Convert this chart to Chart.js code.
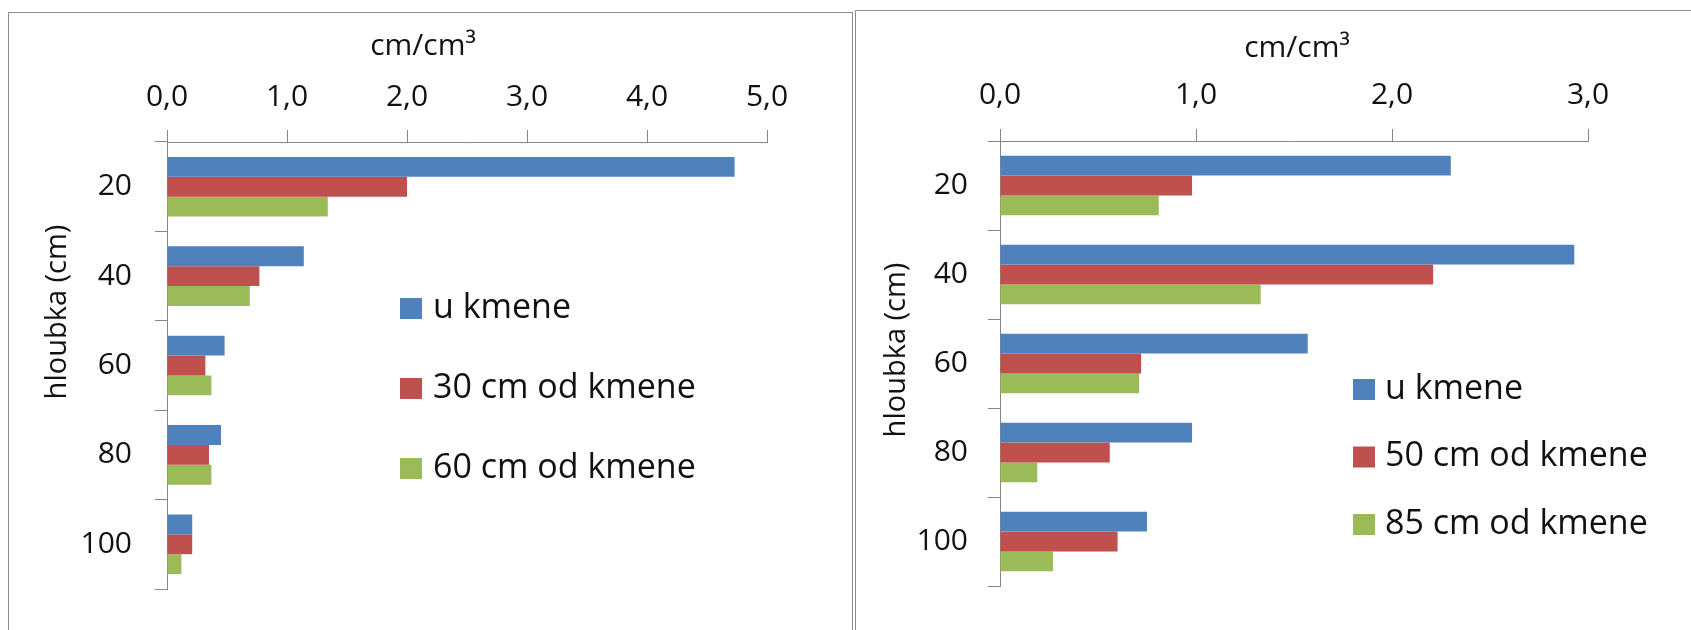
<!DOCTYPE html>
<html>
<head>
<meta charset="utf-8">
<script src="https://cdn.jsdelivr.net/npm/chart.js@4.4.1/dist/chart.umd.min.js"></script>
<style>
    html, body { margin: 0; padding: 0; background: #fff; width: 1691px; height: 630px; overflow: hidden; position: relative; }
    .panel { position: absolute; border: 1px solid #8c8c8c; box-sizing: border-box; background: #fff; }
    #left-panel { left: 8px; top: 12px; width: 845px; height: 700px; }
    #right-panel { left: 855px; top: 10px; width: 900px; height: 700px; }
    .wrap { position: absolute; top: 0; height: 630px; }
    #left-wrap { left: 0; width: 852px; }
    #right-wrap { left: 855px; width: 884px; }
</style>
</head>
<body>
<div class="panel" id="left-panel"></div>
<div class="panel" id="right-panel"></div>
<div class="wrap" id="left-wrap"><canvas id="left-chart"></canvas></div>
<div class="wrap" id="right-wrap"><canvas id="right-chart"></canvas></div>

<script>
const depthLabels = ['20', '40', '60', '80', '100'];
const axisTitle = 'cm/cm³';
const depthTitle = 'hloubka (cm)';

// levá část: 30 a 60 cm od kmene
const leftNames = ['u kmene', '30 cm od kmene', '60 cm od kmene'];
const leftTrunk = [4.73, 1.14, 0.48, 0.45, 0.21];
const left30 = [2.00, 0.77, 0.32, 0.35, 0.21];
const left60 = [1.34, 0.69, 0.37, 0.37, 0.12];

// pravá část: 50 a 85 cm od kmene
const rightNames = ['u kmene', '50 cm od kmene', '85 cm od kmene'];
const rightTrunk = [2.30, 2.93, 1.57, 0.98, 0.75];
const right50 = [0.98, 2.21, 0.72, 0.56, 0.60];
const right85 = [0.81, 1.33, 0.71, 0.19, 0.27];

const seriesColors = ['#4F81BD', '#C0504D', '#9BBB59'];
const axisColor = '#868686';
const textColor = '#111111';
const fontFamily = '"Open Sans", Lato, sans-serif';

// titles + legend drawn inside the panel like the Excel original
const panelText = {
    id: 'panelText',
    afterDraw(chart, args, opts) {
        const ctx = chart.ctx;
        ctx.save();
        ctx.fillStyle = textColor;

        ctx.font = `${opts.titleSize}px ${fontFamily}`;
        ctx.textAlign = 'center';
        ctx.textBaseline = 'alphabetic';
        ctx.fillText(axisTitle, opts.titleX, opts.titleY);

        ctx.save();
        ctx.translate(opts.depthX, opts.depthY);
        ctx.rotate(-Math.PI / 2);
        ctx.font = `${opts.depthSize}px ${fontFamily}`;
        ctx.textBaseline = 'middle';
        ctx.fillText(depthTitle, 0, 0);
        ctx.restore();

        ctx.font = `${opts.legendSize}px ${fontFamily}`;
        ctx.textAlign = 'left';
        ctx.textBaseline = 'middle';
        chart.data.datasets.forEach((ds, i) => {
            const cy = opts.legendY + i * opts.legendStep;
            ctx.fillStyle = ds.backgroundColor;
            ctx.fillRect(opts.legendX, cy - 10, 22, 21);
            ctx.fillStyle = textColor;
            ctx.fillText(ds.label, opts.legendTextX, cy);
        });
        ctx.restore();
    }
};

function makeChart(id, names, values, maxX, cfg) {
    return new Chart(document.getElementById(id), {
        type: 'bar',
        data: {
            labels: depthLabels,
            datasets: names.map((name, i) => ({
                label: name,
                data: values[i],
                backgroundColor: seriesColors[i],
                borderWidth: 0,
                categoryPercentage: 0.667,
                barPercentage: 1.0
            }))
        },
        options: {
            indexAxis: 'y',
            responsive: true,
            maintainAspectRatio: false,
            animation: false,
            layout: { padding: { left: 0, top: 0, right: cfg.padRight, bottom: cfg.padBottom } },
            plugins: {
                legend: { display: false },
                tooltip: { enabled: false },
                panelText: cfg.text
            },
            scales: {
                x: {
                    position: 'top',
                    min: 0,
                    max: maxX,
                    afterFit: (scale) => { scale.height = cfg.axisTop; },
                    grid: { drawOnChartArea: false, drawTicks: true, tickLength: 12, color: axisColor },
                    border: { color: axisColor },
                    ticks: {
                        stepSize: 1,
                        padding: cfg.xPad,
                        color: textColor,
                        font: { family: fontFamily, size: 30 },
                        callback: (value) => value.toFixed(1).replace('.', ',')
                    }
                },
                y: {
                    afterFit: (scale) => { scale.width = cfg.axisLeft; },
                    grid: { offset: true, drawOnChartArea: false, drawTicks: true, tickLength: 12, color: axisColor },
                    border: { color: axisColor },
                    ticks: {
                        padding: cfg.yPad,
                        color: textColor,
                        autoSkip: false,
                        font: { family: fontFamily, size: 30 }
                    }
                }
            }
        },
        plugins: [panelText]
    });
}

makeChart('left-chart', leftNames, [leftTrunk, left30, left60], 5, {
    padRight: 85, padBottom: 23, axisTop: 142, axisLeft: 167, xPad: 15, yPad: 23,
    text: {
        titleSize: 30, titleX: 423, titleY: 55,
        depthSize: 29, depthX: 58, depthY: 312,
        legendSize: 34, legendX: 400, legendTextX: 433, legendY: 308, legendStep: 80
    }
});

makeChart('right-chart', rightNames, [rightTrunk, right50, right85], 3, {
    padRight: 151, padBottom: 44, axisTop: 141, axisLeft: 145, xPad: 16, yPad: 20,
    text: {
        titleSize: 30, titleX: 442, titleY: 57,
        depthSize: 29, depthX: 42, depthY: 350,
        legendSize: 34, legendX: 498, legendTextX: 530, legendY: 389, legendStep: 67.5
    }
});
</script>
</body>
</html>
